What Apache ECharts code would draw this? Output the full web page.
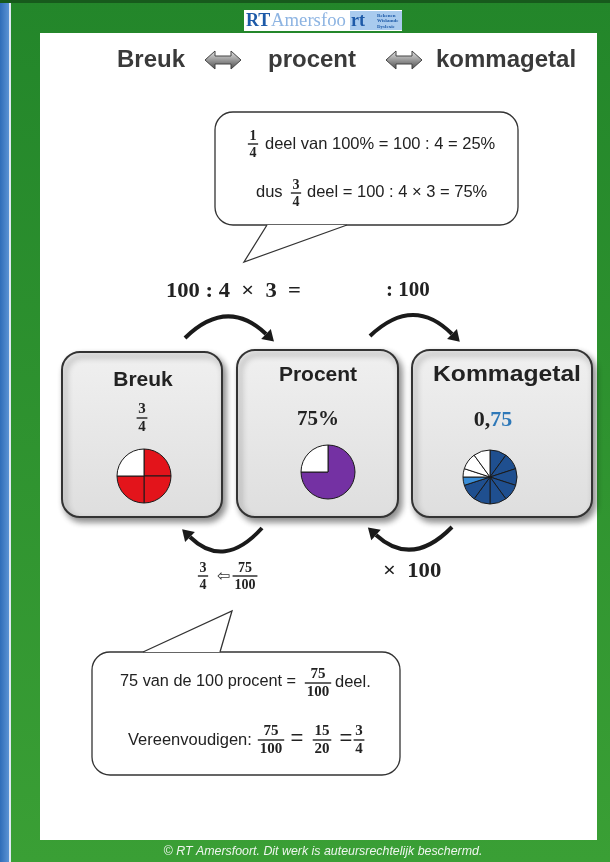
<!DOCTYPE html>
<html>
<head>
<meta charset="utf-8">
<script src="https://cdn.jsdelivr.net/npm/echarts@6/dist/echarts.min.js"></script>
<style>
  html, body { margin: 0; padding: 0; background: #fff; }
  #main { width: 610px; height: 862px; }
</style>
</head>
<body>
<div id="main"></div>
<script>
// pie data: breuk 3/4, procent 75%, kommagetal 0,75 (tenths + hundredths)
var breukParts = [1, 1, 1, 1];
var breukColors = ['#e3141b', '#e3141b', '#e3141b', '#ffffff'];
var procentParts = [75, 25];
var procentColors = ['#7431a3', '#ffffff'];
var kommaParts = [10, 10, 10, 10, 10, 10, 10, 5, 5, 10, 10];
var kommaColors = ['#1f4f8f', '#1f4f8f', '#1f4f8f', '#1f4f8f', '#1f4f8f', '#1f4f8f', '#1f4f8f', '#3a8ed8', '#ffffff', '#ffffff', '#ffffff'];

var titleWords = ['Breuk', 'procent', 'kommagetal'];
var boxTitles = ['Breuk', 'Procent', 'Kommagetal'];

var SANS = '"Liberation Sans", Arial, sans-serif';
var SERIF = '"Liberation Serif", "DejaVu Serif", serif';

var myChart = echarts.init(document.getElementById('main'));

function txt(x, y, s, size, opts) {
    opts = opts || {};
    var el = {
        type: 'text', x: x, y: y, z: 10,
        style: {
            text: s,
            font: (opts.italic ? 'italic ' : '') + (opts.bold ? 'bold ' : '') + size + 'px ' + (opts.family || SANS),
            fill: opts.color || '#222',
            align: opts.align || 'left',
            verticalAlign: opts.valign || 'middle'
        }
    };
    if (opts.sx) { el.scaleX = opts.sx; }
    return el;
}

// fraction with a bar, centred on cx, bar at y
function frac(cx, y, num, den, size, color) {
    var w = Math.max(num.length, den.length) * size * 0.52 + 3;
    color = color || '#222';
    return [
        txt(cx, y - 1, num, size, { bold: true, family: SERIF, align: 'center', valign: 'bottom', color: color }),
        { type: 'line', z: 10, shape: { x1: cx - w / 2, y1: y, x2: cx + w / 2, y2: y }, style: { stroke: color, lineWidth: 1.4 } },
        txt(cx, y + 2, den, size, { bold: true, family: SERIF, align: 'center', valign: 'top', color: color })
    ];
}

// curved arrow, arrow head at the end point
function arc(x1, y1, cx, cy, x2, y2) {
    var a = Math.atan2(y2 - cy, x2 - cx);
    var L = 11, W = 7;
    var tx = x2 + Math.cos(a) * L, ty = y2 + Math.sin(a) * L;
    var px = -Math.sin(a), py = Math.cos(a);
    return [
        { type: 'bezierCurve', z: 9, shape: { x1: x1, y1: y1, cpx1: cx, cpy1: cy, x2: x2, y2: y2 },
          style: { stroke: '#1a1a1a', lineWidth: 4, fill: null } },
        { type: 'polygon', z: 9, shape: { points: [[tx, ty], [x2 + px * W, y2 + py * W], [x2 - px * W, y2 - py * W]] },
          style: { fill: '#1a1a1a' } }
    ];
}

// double headed 3d arrow in the heading
function dblArrow(cx, cy) {
    var p = [[-18, 0], [-8, -9], [-8, -4], [8, -4], [8, -9], [18, 0], [8, 9], [8, 4], [-8, 4], [-8, 9]];
    return {
        type: 'polygon', z: 10,
        shape: { points: p.map(function (d) { return [cx + d[0], cy + d[1]]; }) },
        style: {
            fill: new echarts.graphic.LinearGradient(0, 0, 0, 1, [
                { offset: 0, color: '#e8e8e8' }, { offset: 0.5, color: '#9a9a9a' }, { offset: 1, color: '#4a4a4a' }
            ]),
            stroke: '#444', lineWidth: 1
        }
    };
}

function box(x, y, w, h) {
    return {
        type: 'rect', z: 1,
        shape: { x: x, y: y, width: w, height: h, r: 18 },
        style: {
            fill: new echarts.graphic.LinearGradient(0, 0, 0, 1, [
                { offset: 0, color: '#f0f0f0' }, { offset: 1, color: '#dedede' }
            ]),
            stroke: '#333', lineWidth: 2,
            shadowBlur: 6, shadowOffsetX: 3, shadowOffsetY: 4, shadowColor: 'rgba(0,0,0,0.45)'
        }
    };
}

// speech bubble: rounded rect + tail (white patch hides the border under the tail)
function bubble(x, y, w, h, tail, gapY) {
    return [
        { type: 'rect', z: 2, shape: { x: x, y: y, width: w, height: h, r: 18 }, style: { fill: '#fff', stroke: '#333', lineWidth: 1.3 } },
        { type: 'polygon', z: 3, shape: { points: [[tail[0], gapY], tail[1], [tail[2], gapY]] }, style: { fill: '#fff' } },
        { type: 'polyline', z: 3, shape: { points: [[tail[0], gapY], tail[1], [tail[2], gapY]] }, style: { stroke: '#333', lineWidth: 1.3, fill: null } }
    ];
}

var g = [];
// page frame
g.push({ type: 'rect', z: 0, shape: { x: 0, y: 0, width: 610, height: 862 },
    style: { fill: new echarts.graphic.LinearGradient(0, 0, 0, 1, [{ offset: 0, color: '#23862a' }, { offset: 1, color: '#3a9f35' }]) } });
g.push({ type: 'rect', z: 0, shape: { x: 0, y: 0, width: 9, height: 862 },
    style: { fill: new echarts.graphic.LinearGradient(0, 0, 1, 0, [{ offset: 0, color: '#2f6db8' }, { offset: 1, color: '#5b93d4' }]) } });
g.push({ type: 'rect', z: 0, shape: { x: 9, y: 0, width: 2, height: 862 }, style: { fill: '#dfe9f3' } });
g.push({ type: 'rect', z: 0, shape: { x: 0, y: 0, width: 610, height: 3 }, style: { fill: '#175a1c' } });
g.push({ type: 'rect', z: 0, shape: { x: 40, y: 33, width: 557, height: 807 }, style: { fill: '#ffffff' } });

// logo
g.push({ type: 'rect', z: 5, shape: { x: 244, y: 10, width: 158, height: 21 }, style: { fill: '#ffffff' } });
g.push({ type: 'rect', z: 5, shape: { x: 350, y: 11, width: 52, height: 19 }, style: { fill: '#a9cbee' } });
g.push(txt(246, 21, 'RT', 18, { bold: true, family: SERIF, color: '#1d5aa8' }));
g.push(txt(271, 21, 'Amersfoo', 18, { family: SERIF, color: '#8db4e2', sx: 1.04 }));
g.push(txt(351, 21, 'rt', 18, { bold: true, family: SERIF, color: '#1d5aa8' }));
g.push({ type: 'text', x: 377, y: 21, z: 10, style: { text: 'Rekenen\nWiskunde\nDyslexie', font: 'bold 5px ' + SERIF, fill: '#1d5aa8', verticalAlign: 'middle', lineHeight: 5.5 } });

// heading
g.push(txt(117, 60, titleWords[0], 24, { bold: true, color: '#3a3a3a' }));
g.push(dblArrow(223, 60));
g.push(txt(268, 60, titleWords[1], 24, { bold: true, color: '#3a3a3a' }));
g.push(dblArrow(404, 60));
g.push(txt(436, 60, titleWords[2], 24, { bold: true, color: '#3a3a3a' }));

// bubble 1
g = g.concat(bubble(215, 112, 303, 113, [267, [244, 262], 347], 225));
g = g.concat(frac(253, 144, '1', '4', 14));
g.push(txt(265, 144, 'deel van 100% = 100 : 4 = 25%', 16.5));
g.push(txt(256, 192, 'dus', 16.5));
g = g.concat(frac(296, 193, '3', '4', 14));
g.push(txt(307, 192, 'deel = 100 : 4 × 3 = 75%', 16.5));

// operations
g.push(txt(166, 291, '100 : 4  ×  3  =', 21.5, { bold: true, family: SERIF, sx: 1.05 }));
g.push(txt(386, 291, ': 100', 21, { bold: true, family: SERIF }));
g = g.concat(arc(185, 338, 227, 297, 266, 334));
g = g.concat(arc(370, 336, 413, 295, 452, 334));
g = g.concat(arc(262, 528, 224, 570, 190, 537));
g = g.concat(arc(452, 527, 412, 568, 376, 535));
g = g.concat(frac(203, 576, '3', '4', 14));
g.push(txt(223, 577, '⇦', 16, { color: '#333', align: 'center' }));
g = g.concat(frac(245, 576, '75', '100', 14));
g.push(txt(383, 572, '×  100', 21, { bold: true, family: SERIF, sx: 1.08 }));

// boxes
g.push(box(62, 352, 160, 165));
g.push(box(237, 350, 161, 167));
g.push(box(412, 350, 180, 167));
g.push(txt(143, 380, boxTitles[0], 21, { bold: true, align: 'center' }));
g.push(txt(318, 375, boxTitles[1], 21, { bold: true, align: 'center' }));
g.push(txt(507, 375, boxTitles[2], 22, { bold: true, align: 'center', sx: 1.12 }));
g = g.concat(frac(142, 418, '3', '4', 15));
g.push(txt(318, 420, '75%', 21, { bold: true, family: SERIF, align: 'center' }));
g.push({ type: 'text', x: 493, y: 420, z: 10, style: {
    text: '{a|0,}{b|75}', align: 'center', verticalAlign: 'middle',
    rich: { a: { font: 'bold 22px ' + SERIF, fill: '#222' }, b: { font: 'bold 22px ' + SERIF, fill: '#2e78b8' } } } });

// bubble 2
g = g.concat(bubble(92, 652, 308, 123, [143, [232, 611], 220], 652));
g.push(txt(120, 682, '75 van de 100 procent =', 16.3));
g = g.concat(frac(318, 683, '75', '100', 15));
g.push(txt(335, 682, 'deel.', 16.5));
g.push(txt(128, 740, 'Vereenvoudigen:', 16.5));
g = g.concat(frac(271, 740, '75', '100', 15));
g.push(txt(297, 739, '=', 22, { align: 'center' }));
g = g.concat(frac(322, 740, '15', '20', 15));
g.push(txt(346, 739, '=', 22, { align: 'center' }));
g = g.concat(frac(359, 740, '3', '4', 15));

// footer
g.push(txt(323, 852, '© RT Amersfoort. Dit werk is auteursrechtelijk beschermd.', 12.4, { italic: true, align: 'center', color: '#eef5ee' }));

function pieSeries(center, radius, parts, colors) {
    return {
        type: 'pie', center: center, radius: radius, z: 5,
        startAngle: 90, clockwise: true, silent: true, animation: false,
        label: { show: false }, labelLine: { show: false },
        itemStyle: { borderColor: '#1a1a1a', borderWidth: 1 },
        data: parts.map(function (v, i) { return { value: v, itemStyle: { color: colors[i] } }; })
    };
}

myChart.setOption({
    animation: false,
    graphic: { elements: g },
    series: [
        pieSeries([144, 476], 27, breukParts, breukColors),
        pieSeries([328, 472], 27, procentParts, procentColors),
        pieSeries([490, 477], 27, kommaParts, kommaColors)
    ]
});

window.addEventListener('resize', function () { myChart.resize(); });
</script>
</body>
</html>
